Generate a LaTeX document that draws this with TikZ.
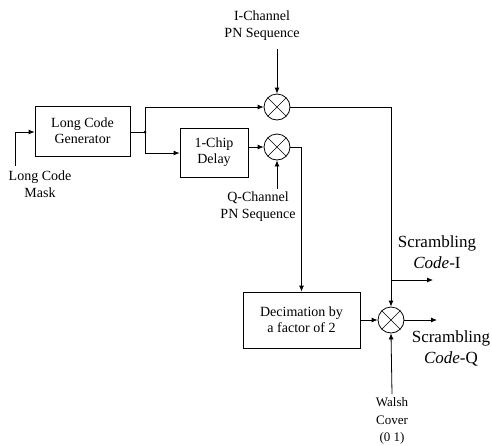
\documentclass[tikz,border=0pt]{standalone}
\usepackage{fontspec}
\setmainfont{Liberation Serif}
\usetikzlibrary{arrows.meta}

\tikzset{
    blk/.style={draw, line width=0.8pt, align=center, font=\fontsize{14}{16}\selectfont},
    lbl/.style={align=center, font=\fontsize{14}{17}\selectfont},
    big/.style={align=center, font=\fontsize{17}{21}\selectfont},
    mult/.style={circle, draw, line width=0.8pt, minimum size=26pt, inner sep=0pt,
        path picture={\draw[line width=0.6pt] (path picture bounding box.south east)--(path picture bounding box.north west)
            (path picture bounding box.south west)--(path picture bounding box.north east);}},
    sig/.style={line width=0.8pt, -{Latex[length=6pt,width=5pt]}}
}

\begin{document}
\begin{tikzpicture}[x=1pt,y=-1pt]
            \useasboundingbox (0,0) rectangle (492,445);

            \node[blk, minimum width=95pt, minimum height=50pt] (gen) at (82.5,131) {Long Code\\Generator};
            \node[blk, minimum width=68pt, minimum height=49pt] (delay) at (214,152.5) {1-Chip\\Delay};
            \node[blk, minimum width=117pt, minimum height=56pt] (dec) at (301.5,320) {Decimation by\\a factor of 2};

            \node[mult] (multI) at (277,107) {};
            \node[mult] (multQ) at (277,147) {};
            \node[mult] (multF) at (391,320) {};

            \node[lbl] (mask) at (40,184) {Long Code\\Mask};
            \node[lbl] (ipn) at (262,26) {I-Channel\\PN Sequence};
            \node[lbl] (qpn) at (258,207) {Q-Channel\\PN Sequence};
            \node[big] (scrI) at (437,252) {Scrambling\\\textit{Code}-I};
            \node[big] (scrQ) at (451,348) {Scrambling\\\textit{Code}-Q};
            \node[lbl, font=\fontsize{13}{17.5}\selectfont] (walsh) at (392,421) {Walsh\\Cover\\(0 1)};

            \coordinate (in) at (15,166);
            \coordinate (j) at (145,132);
            \coordinate (b) at (391,280);
            \coordinate (outI) at (433,280);
            \coordinate (outQ) at (437,320);

            \draw[sig] (in) |- (gen.west |- j);
            \draw[line width=0.8pt] (gen.east |- j) -- (j);
            \fill (j) circle (1.5pt);
            \draw[sig] (j) |- (multI.west);
            \draw[sig] (j) |- (delay.west |- 0,153);
            \draw[sig] (delay.east |- multQ) -- (multQ.west);
            \draw[sig] ([yshift=-5pt]ipn.south -| multI.north) -- (multI.north);
            \draw[sig] (qpn.north -| multQ.south) -- (multQ.south);
            \draw[sig] (multQ.east) -| (dec.north);
            \draw[sig] (multI.east) -| (multF.north);
            \draw[sig] (b) -- (outI);
            \draw[sig] (dec.east) -- (multF.west);
            \draw[sig] (multF.east) -- (outQ);
            \draw[sig] (walsh.north) -- (multF.south);
        \end{tikzpicture}
\end{document}
